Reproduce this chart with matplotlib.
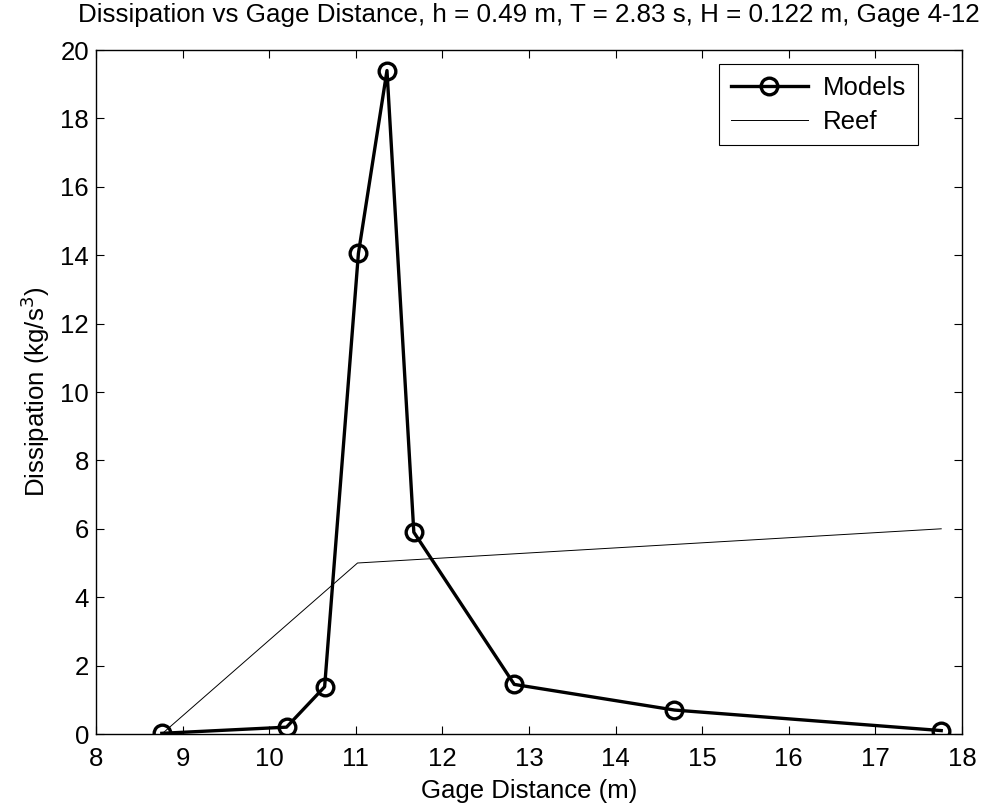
import matplotlib.pyplot as plt

plt.rcParams['font.family'] = ['Liberation Sans', 'DejaVu Sans']

# gage positions (m) and dissipation (kg/s^3)
gage_x = [8.76, 10.2, 10.64, 11.03, 11.36, 11.67, 12.83, 14.68, 17.76]
dissipation = [0.02, 0.2, 1.38, 14.05, 19.4, 5.9, 1.45, 0.7, 0.1]

# reef profile
reef_x = [8.76, 11.02, 17.76]
reef_y = [0.0, 5.0, 6.0]

fig = plt.figure(figsize=(9.87, 8.06), dpi=100)
ax = fig.add_axes([96/987, 72/806, 866/987, 684/806])

ax.plot(gage_x, dissipation, color='k', lw=2.4, marker='o', markersize=12,
        markerfacecolor='none', markeredgewidth=2.4, label='Models')
ax.plot(reef_x, reef_y, color='k', lw=0.7, label='Reef')

ax.set_xlim(8, 18)
ax.set_ylim(0, 20)
ax.set_xticks(range(8, 19))
ax.set_yticks(range(0, 21, 2))
ax.tick_params(direction='in', top=True, right=True, length=6, width=0.8,
               labelsize=18.5, pad=5)
ax.tick_params(axis='x', pad=9)
for s in ax.spines.values():
    s.set_linewidth(1.0)

ax.set_title('Dissipation vs Gage Distance, h = 0.49 m, T = 2.83 s, H = 0.122 m, Gage 4-12',
             fontsize=18.7, pad=20)
ax.set_xlabel('Gage Distance (m)', fontsize=18.5, labelpad=6)
ax.set_ylabel('Dissipation (kg/s$^3$)', fontsize=18.5, labelpad=6)

leg = ax.legend(loc='upper right', bbox_to_anchor=(918/987, 1 - 64/806),
                bbox_transform=fig.transFigure, borderaxespad=0, fancybox=False,
                framealpha=1, edgecolor='k', fontsize=18.5, handlelength=3.0,
                borderpad=0.45, labelspacing=0.4, handletextpad=0.6)
leg.get_frame().set_linewidth(0.8)

fig.savefig('out.png', dpi=100)
